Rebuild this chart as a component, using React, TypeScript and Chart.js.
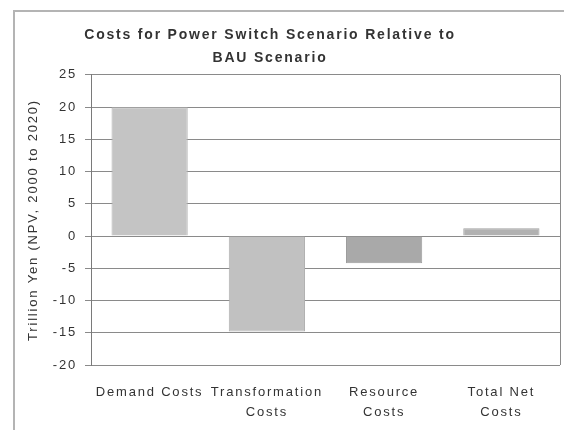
import React, { useEffect, useRef } from "react";
import { Chart, registerables } from "chart.js";

Chart.register(...registerables);

const titleLines = ["Costs for Power Switch Scenario Relative to", "BAU Scenario"];
const categories: (string | string[])[] = [
  "Demand Costs",
  ["Transformation", "Costs"],
  ["Resource", "Costs"],
  ["Total Net", "Costs"],
];
const values = [20, -14.8, -4.2, 1.2];
const barColors = ["#c4c4c4", "#c1c1c1", "#a9a9a9", "#b1b1b1"];
const barBorders = ["#b2b2b2", "#b0b0b0", "#9c9c9c", "#a2a2a2"];
const yTitle = "Trillion Yen (NPV, 2000 to 2020)";
const yMin = -20;
const yMax = 25;
const yStep = 5;

const FONT = "'Liberation Sans', Arial, sans-serif";

export default function App() {
  const ref = useRef<HTMLCanvasElement | null>(null);

  useEffect(() => {
    if (!ref.current) return;
    const spacingPlugin = {
      id: "spacing",
      beforeUpdate(chart: any) {
        (chart.ctx as any).letterSpacing = "1.8px";
      },
      beforeDraw(chart: any) {
        (chart.ctx as any).letterSpacing = "1.8px";
      },
    };
    const borderPlugin = {
      id: "plotBorder",
      afterDatasetsDraw(chart: any) {
        const { ctx, chartArea } = chart;
        ctx.save();
        ctx.strokeStyle = "#8a8a8a";
        ctx.lineWidth = 1;
        ctx.beginPath();
        ctx.moveTo(Math.round(chartArea.right) + 0.5, chartArea.top);
        ctx.lineTo(Math.round(chartArea.right) + 0.5, chartArea.bottom);
        ctx.stroke();
        ctx.restore();
      },
    };
    const chart = new Chart(ref.current, {
      type: "bar",
      data: {
        labels: categories,
        datasets: [
          {
            data: values,
            backgroundColor: barColors,
            borderColor: barBorders,
            borderWidth: 1,
            barPercentage: 0.65,
            categoryPercentage: 1,
          },
        ],
      },
      options: {
        responsive: false,
        animation: false,
        devicePixelRatio: 1,
        layout: { padding: { left: 0, right: 4, top: 12, bottom: 0 } },
        plugins: {
          legend: { display: false },
          tooltip: { enabled: false },
          title: {
            display: true,
            text: titleLines,
            color: "#333333",
            font: { family: FONT, size: 14, weight: "bold", lineHeight: 1.64 },
            padding: { top: 12, bottom: 5 },
          },
        },
        scales: {
          x: {
            grid: { display: false },
            border: { display: false },
            ticks: {
              color: "#333333",
              font: { family: FONT, size: 13, lineHeight: 1.54 },
              padding: 9,
              autoSkip: false,
              maxRotation: 0,
              minRotation: 0,
            },
            afterFit(scale: any) {
              scale.height = 65;
            },
          },
          y: {
            min: yMin,
            max: yMax,
            grid: {
              color: "#8a8a8a",
              lineWidth: 1,
              tickLength: 6,
              drawTicks: true,
            },
            border: { display: true, color: "#7a7a7a", width: 1 },
            ticks: {
              stepSize: yStep,
              color: "#333333",
              font: { family: FONT, size: 13 },
              padding: 8,
            },
            title: {
              display: true,
              text: yTitle,
              color: "#333333",
              font: { family: FONT, size: 13 },
              padding: { top: 46, bottom: 0 },
            },
            afterFit(scale: any) {
              scale.width = 111;
            },
          },
        },
      },
      plugins: [spacingPlugin, borderPlugin],
    });
    return () => chart.destroy();
  }, []);

  return (
    <div
      style={{
        position: "fixed",
        left: 0,
        top: 0,
        width: 564,
        height: 430,
        overflow: "hidden",
        background: "#ffffff",
      }}
    >
      <div
        style={{
          position: "absolute",
          left: 13,
          top: 10,
          width: 600,
          height: 500,
          border: "2px solid #b4b4b4",
          boxSizing: "border-box",
        }}
      />
      <canvas
        ref={ref}
        width={584}
        height={430}
        style={{ position: "absolute", left: -20, top: 0, width: 584, height: 430 }}
      />
    </div>
  );
}
